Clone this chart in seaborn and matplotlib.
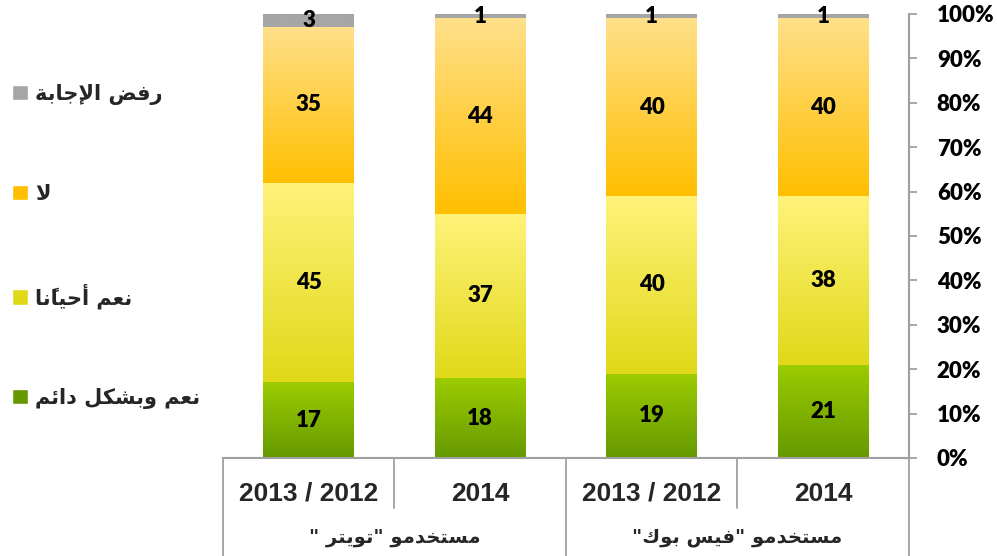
import numpy as np
import pandas as pd
import matplotlib
matplotlib.use('Agg')
import matplotlib.pyplot as plt
from matplotlib.patches import Patch
from matplotlib.colors import to_rgb
import seaborn as sns

# Data
groups = ['مستخدمو "تويتر "', 'مستخدمو "فيس بوك"']
periods = ['2013 / 2012', '2014', '2013 / 2012', '2014']
series = ['نعم وبشكل دائم', 'نعم أحيانًا', 'لا', 'رفض الإجابة']
always = [17, 18, 19, 21]
sometimes = [45, 37, 40, 38]
no = [35, 44, 40, 40]
refused = [3, 1, 1, 1]

# gradient colours (top, bottom) for each series
grad_colors = [('#9ccc00', '#669900'), ('#fff27a', '#e0d918'),
               ('#ffe08a', '#ffbf00'), ('#a6a6a6', '#a6a6a6')]


# matplotlib has no arabic shaping, so pick the presentation forms by hand
FORMS = {
    'ا': (0xFE8D, 0xFE8E), 'أ': (0xFE83, 0xFE84), 'إ': (0xFE87, 0xFE88),
    'ة': (0xFE93, 0xFE94), 'د': (0xFEA9, 0xFEAA), 'ر': (0xFEAD, 0xFEAE),
    'و': (0xFEED, 0xFEEE),
    'ب': (0xFE8F, 0xFE90, 0xFE91, 0xFE92), 'ت': (0xFE95, 0xFE96, 0xFE97, 0xFE98),
    'ج': (0xFE9D, 0xFE9E, 0xFE9F, 0xFEA0), 'ح': (0xFEA1, 0xFEA2, 0xFEA3, 0xFEA4),
    'خ': (0xFEA5, 0xFEA6, 0xFEA7, 0xFEA8), 'س': (0xFEB1, 0xFEB2, 0xFEB3, 0xFEB4),
    'ش': (0xFEB5, 0xFEB6, 0xFEB7, 0xFEB8), 'ض': (0xFEBD, 0xFEBE, 0xFEBF, 0xFEC0),
    'ع': (0xFEC9, 0xFECA, 0xFECB, 0xFECC), 'ف': (0xFED1, 0xFED2, 0xFED3, 0xFED4),
    'ك': (0xFED9, 0xFEDA, 0xFEDB, 0xFEDC), 'ل': (0xFEDD, 0xFEDE, 0xFEDF, 0xFEE0),
    'م': (0xFEE1, 0xFEE2, 0xFEE3, 0xFEE4), 'ن': (0xFEE5, 0xFEE6, 0xFEE7, 0xFEE8),
    'ي': (0xFEF1, 0xFEF2, 0xFEF3, 0xFEF4), 'ئ': (0xFE89, 0xFE8A, 0xFE8B, 0xFE8C),
}
LAM_ALEF = {'ا': (0xFEFB, 0xFEFC), 'أ': (0xFEF7, 0xFEF8), 'إ': (0xFEF9, 0xFEFA)}
MARKS = '\u064b\u064e\u064f\u0650\u0651\u0652'


def shape_ar(text):
    # split into clusters of [letter, marks]
    clusters = []
    for ch in text:
        if ch in MARKS and clusters:
            clusters[-1][1] += ch
        elif ch in LAM_ALEF and clusters and clusters[-1][0] == 'ل' and not clusters[-1][1]:
            clusters[-1][0] = 'ل' + ch
        else:
            clusters.append([ch, ''])

    def forms(c):
        if len(c) == 2:
            return LAM_ALEF[c[1]]
        return FORMS.get(c)

    out = []
    for i, (c, m) in enumerate(clusters):
        f = forms(c)
        if f is None:
            out.append(c + m)
            continue
        prev = forms(clusters[i - 1][0]) if i > 0 else None
        nxt = forms(clusters[i + 1][0]) if i + 1 < len(clusters) else None
        join_prev = prev is not None and len(prev) == 4
        join_next = len(f) == 4 and nxt is not None
        if join_prev and join_next:
            g = f[3]
        elif join_next:
            g = f[2]
        elif join_prev:
            g = f[1]
        else:
            g = f[0]
        out.append(chr(g) + m)
    return ''.join(reversed(out))


# Build the dataframe
bar_keys = [g + ' ' + p for g in groups for p in periods[:2]]
df = pd.DataFrame({'bar': bar_keys, 'always': always, 'sometimes': sometimes,
                   'no': no, 'refused': refused})
cols = ['always', 'sometimes', 'no', 'refused']

sns.set_style('white')
plt.rcParams['font.family'] = ['DejaVu Sans']

fig = plt.figure(figsize=(9.97, 5.56), dpi=100)
ax = fig.add_axes([0.2234, 0.1763, 0.6884, 0.7986])

# Stacked bars
bottom = np.zeros(len(df))
for col in cols:
    sns.barplot(data=df, x='bar', y=col, order=bar_keys, bottom=bottom,
                color='#cccccc', width=0.53, ax=ax, linewidth=0)
    bottom = bottom + df[col].values

# gradient fill on every segment + value labels
for container, (top_c, bot_c), col in zip(ax.containers, grad_colors, cols):
    for patch in container:
        x, y = patch.get_x(), patch.get_y()
        w, h = patch.get_width(), patch.get_height()
        t = np.linspace(0, 1, 200)[:, None, None]
        img = (1 - t) * np.array(to_rgb(top_c)) + t * np.array(to_rgb(bot_c))
        ax.imshow(img, extent=(x, x + w, y, y + h), origin='upper',
                  aspect='auto', zorder=patch.get_zorder() + 0.1)
    ax.bar_label(container, labels=[str(v) for v in df[col]], label_type='center',
                 fontsize=16, fontweight='heavy', family='Lato', color='black',
                 zorder=5)

ax.set_xlim(-0.5, 3.5)
ax.set_ylim(0, 100)
ax.set_xlabel('')
ax.set_ylabel('')

# right percentage axis
ax.yaxis.tick_right()
ax.set_yticks(range(0, 101, 10))
ax.set_yticklabels([f'{v}%' for v in range(0, 101, 10)], fontsize=16,
                   fontweight='heavy', family='Lato')
ax.tick_params(axis='y', colors='#a0a0a0', labelcolor='black', length=6,
               width=1.3, pad=14)

# category axis drawn like a two level table
ax.set_xticks(range(4))
ax.set_xticklabels(periods, fontsize=19, fontweight='bold', family='Liberation Sans')
ax.tick_params(axis='x', length=0, pad=17)
for side in ['top', 'left']:
    ax.spines[side].set_visible(False)
for side in ['right', 'bottom']:
    ax.spines[side].set_color('#a0a0a0')
    ax.spines[side].set_linewidth(1.5)

xt = ax.get_xaxis_transform()
for xv in [-0.5, 1.5, 3.5]:
    ax.plot([xv, xv], [0, -0.23], color='#a0a0a0', lw=1.3, transform=xt, clip_on=False)
for xv in [0.5, 2.5]:
    ax.plot([xv, xv], [0, -0.112], color='#a0a0a0', lw=1.3, transform=xt, clip_on=False)
for i, g in enumerate(groups):
    ax.text(2 * i + 0.5, -0.18, shape_ar(g), transform=xt, ha='center', va='center',
            fontsize=14, fontweight='bold')

# legend on the left, top entry first
handles = [Patch(facecolor=grad_colors[i][1] if i < 3 else grad_colors[i][0])
           for i in [3, 2, 1, 0]]
labels = [shape_ar(series[i]) for i in [3, 2, 1, 0]]
fig.legend(handles, labels, loc='upper left', bbox_to_anchor=(0.002, 0.868),
           frameon=False, prop={'weight': 'bold', 'size': 15},
           handlelength=0.75, handleheight=0.75, handletextpad=0.35,
           labelspacing=3.8, borderpad=0)

fig.savefig('out.png', dpi=100)
